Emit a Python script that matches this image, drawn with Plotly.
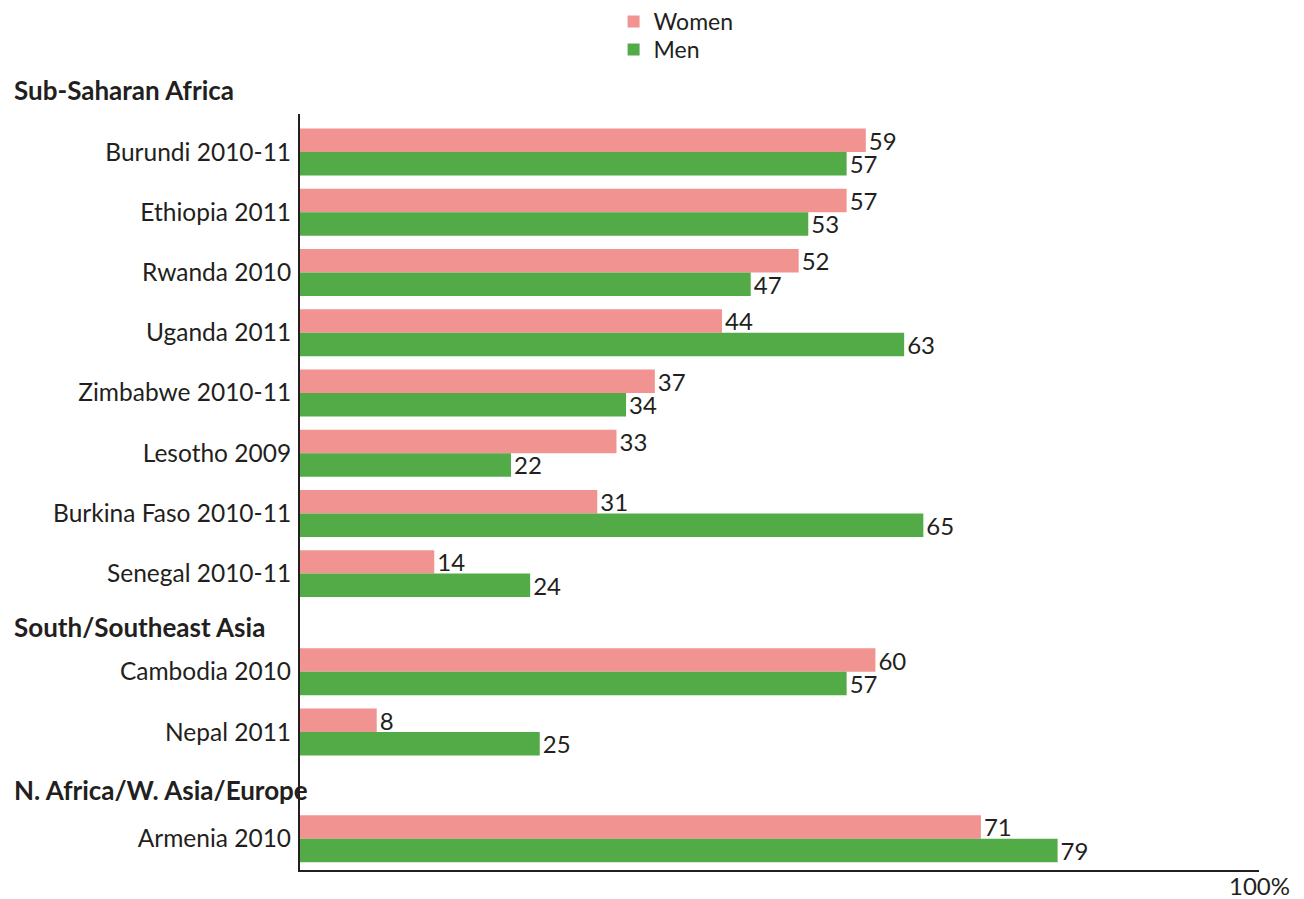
import plotly.graph_objects as go

# ---- data ----
group_names = ["Sub-Saharan Africa", "South/Southeast Asia", "N. Africa/W. Asia/Europe"]
group_sizes = [8, 2, 1]
countries = ["Burundi 2010-11", "Ethiopia 2011", "Rwanda 2010", "Uganda 2011",
             "Zimbabwe 2010-11", "Lesotho 2009", "Burkina Faso 2010-11", "Senegal 2010-11",
             "Cambodia 2010", "Nepal 2011", "Armenia 2010"]
women = [59, 57, 52, 44, 37, 33, 31, 14, 60, 8, 71]
men = [57, 53, 47, 63, 34, 22, 65, 24, 57, 25, 79]
series_names = ["Women", "Men"]
axis_end_label = "100%"

# ---- layout of rows (row index with extra space before each group) ----
GROUP_GAPS = [0.0, 0.63, 0.77]
HEADER_OFFSETS = [1.03, 0.75, 0.8]
pos = []
header_pos = []
cur = 0.0
for gi, n in enumerate(group_sizes):
    cur += GROUP_GAPS[gi]
    header_pos.append(cur - HEADER_OFFSETS[gi])
    for _ in range(n):
        pos.append(cur)
        cur += 1

Y_TOP = -0.63
Y_BOT = pos[-1] + 0.52

PINK = "#F19391"
GREEN = "#53AB47"
TXT = "#231F20"
FONT = "Lato"

# page has an 8px body margin, so the figure is offset by 8px
W, H = 1296, 891
ML, MR, MT, MB = 292, 45, 106, 29
plot_h = H - MT - MB
plot_w = W - ML - MR

fig = go.Figure()
for name, vals, col, lg in [(series_names[0], women, PINK, "legend"),
                            (series_names[1], men, GREEN, "legend2")]:
    fig.add_trace(go.Bar(
        name=name, y=pos, x=vals, orientation="h",
        marker=dict(color=col, line=dict(width=0)),
        text=[str(v) for v in vals], textposition="outside",
        textfont=dict(family=FONT, size=24, color=TXT),
        constraintext="none", cliponaxis=False, legend=lg,
    ))

annotations = []
for name, y in zip(group_names, header_pos):
    py = (Y_BOT - y) / (Y_BOT - Y_TOP)
    annotations.append(dict(
        text="<b>%s</b>" % name, xref="paper", yref="paper", x=(4 - ML) / plot_w, y=py,
        xanchor="left", yanchor="middle", showarrow=False,
        font=dict(family=FONT, size=26, color=TXT)))
annotations.append(dict(
    text=axis_end_label, xref="x", yref="paper", x=100, y=0, yshift=-15,
    xanchor="center", yanchor="middle", showarrow=False,
    font=dict(family=FONT, size=24, color=TXT)))

leg_common = dict(orientation="v", x=0.327, xanchor="left", yref="paper", yanchor="top",
                  font=dict(family=FONT, size=23, color=TXT), bgcolor="rgba(0,0,0,0)")

fig.update_layout(
    width=W, height=H,
    margin=dict(l=ML, r=MR, t=MT, b=MB, autoexpand=False),
    plot_bgcolor="white", paper_bgcolor="white",
    barmode="group", bargap=0.22, bargroupgap=0,
    font=dict(family=FONT, size=24, color=TXT),
    showlegend=True,
    legend=dict(y=1 + (MT + 8) / plot_h, **leg_common),
    legend2=dict(y=1 + (MT - 20) / plot_h, **leg_common),
    annotations=annotations,
)
fig.update_xaxes(range=[0, 100], showline=True, linecolor=TXT, linewidth=2,
                 showticklabels=False, ticks="", showgrid=False, zeroline=False)
fig.update_yaxes(range=[Y_BOT, Y_TOP], tickvals=pos, ticktext=countries,
                 showline=True, linecolor=TXT, linewidth=2, ticks="", ticklen=0,
                 ticklabelstandoff=2, showgrid=False, zeroline=False,
                 tickfont=dict(family=FONT, size=24.5, color=TXT))

fig.write_html("out.html")
